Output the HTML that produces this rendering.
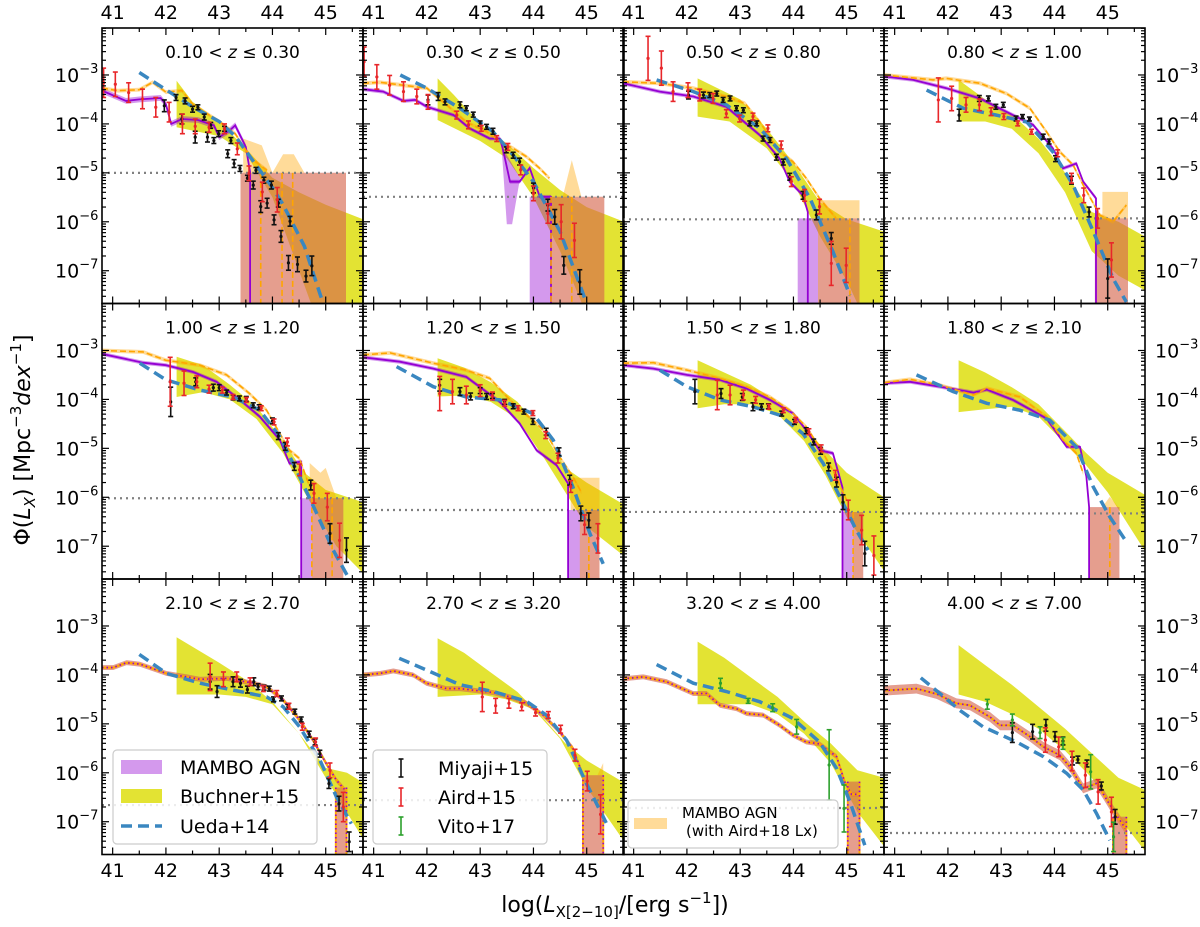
<!DOCTYPE html>
<html><head><meta charset="utf-8">
<style>
html,body{margin:0;padding:0;background:#fff;}
svg{display:block;font-family:"DejaVu Sans","Liberation Sans",sans-serif;}
</style></head>
<body>
<svg id="chart" width="1200" height="927" viewBox="0 0 1200 927" xmlns="http://www.w3.org/2000/svg">
<text x="615" y="912" text-anchor="middle" font-size="22">log(<tspan font-style="italic">L</tspan><tspan font-size="15" dy="5">X[2−10]</tspan><tspan dy="-5">/[erg s</tspan><tspan font-size="15" dy="-9">−1</tspan><tspan dy="9">])</tspan></text>
<text transform="translate(30,440) rotate(-90)" text-anchor="middle" font-size="22">Φ(<tspan font-style="italic">L</tspan><tspan font-size="15" dy="5" font-style="italic">X</tspan><tspan dy="-5">) [Mpc</tspan><tspan font-size="15" dy="-9">−3</tspan><tspan dy="9" font-style="italic">dex</tspan><tspan font-size="15" dy="-9">−1</tspan><tspan dy="9">]</tspan></text>
</svg>
<script>
const titles=["0.10","0.30","0.30","0.50","0.50","0.80","0.80","1.00","1.00","1.20","1.20","1.50","1.50","1.80","1.80","2.10","2.10","2.70","2.70","3.20","3.20","4.00","4.00","7.00"];
const mamboLine=[
[[40.8,-3.32],[41.25,-3.53],[41.5,-3.5],[41.9,-3.47],[42.0,-3.6],[42.1,-4.0],[42.3,-3.9],[42.6,-3.92],[42.9,-4.03],[43.0,-4.27],[43.2,-4.13],[43.3,-4.03],[43.5,-4.47],[43.58,-4.98]],
[[40.8,-3.29],[41.18,-3.34],[41.56,-3.53],[41.78,-3.51],[42.0,-3.65],[42.5,-3.82],[42.8,-4.09],[43.18,-4.3],[43.37,-4.3],[43.43,-4.53],[43.56,-5.18],[43.74,-5.18],[43.93,-4.9],[44.12,-5.49],[44.33,-5.49]],
[[40.8,-3.17],[41.49,-3.34],[42.12,-3.44],[42.74,-3.65],[43.37,-4.23],[43.74,-4.71],[43.93,-5.18],[44.18,-5.46],[44.27,-5.8]],
[[40.8,-3.03],[41.35,-3.1],[41.97,-3.27],[42.6,-3.48],[43.22,-3.82],[43.6,-4.02],[43.97,-4.5],[44.16,-4.91],[44.41,-4.81],[44.54,-5.18],[44.78,-5.52]],
[[40.8,-3.07],[41.57,-3.25],[42.0,-3.3],[42.51,-3.44],[42.95,-3.64],[43.39,-4.01],[43.76,-4.35],[44.14,-4.83],[44.32,-5.31],[44.54,-5.27]],
[[40.8,-3.14],[41.49,-3.23],[42.12,-3.37],[42.74,-3.54],[43.37,-4.05],[43.74,-4.49],[44.06,-5.04],[44.43,-5.34],[44.65,-5.72]],
[[40.8,-3.3],[41.37,-3.37],[42.0,-3.5],[42.62,-3.6],[43.12,-3.78],[43.56,-4.01],[44.0,-4.29],[44.24,-4.63],[44.49,-5.04],[44.74,-5.1],[44.92,-5.8]],
[[40.8,-3.67],[41.29,-3.64],[41.85,-3.74],[42.48,-3.86],[42.73,-3.8],[43.22,-4.01],[43.85,-4.39],[44.23,-4.97],[44.48,-4.97],[44.6,-5.58],[44.65,-6.2]],
[[40.8,-3.85],[41.01,-3.85],[41.26,-3.75],[41.51,-3.78],[42.01,-3.97],[42.39,-4.04],[42.64,-4.09],[43.14,-4.07],[43.64,-4.17],[43.89,-4.24],[44.2,-4.51],[44.51,-4.92],[44.76,-5.33],[45.01,-5.81],[45.2,-6.15],[45.36,-6.35]],
[[40.8,-4.0],[41.12,-3.97],[41.37,-3.92],[41.74,-4.0],[41.99,-4.17],[42.37,-4.28],[42.62,-4.28],[43.24,-4.36],[43.56,-4.45],[43.87,-4.58],[44.18,-4.82],[44.49,-5.16],[44.74,-5.5],[44.93,-6.05]],
[[40.8,-4.08],[41.18,-4.04],[41.62,-4.14],[42.12,-4.38],[42.37,-4.38],[42.62,-4.62],[42.93,-4.69],[43.12,-4.79],[43.43,-4.82],[43.74,-5.03],[43.99,-5.23],[44.24,-5.37],[44.49,-5.41],[44.81,-5.67],[44.96,-6.18],[45.09,-6.44],[45.24,-6.44]],
[[40.8,-4.32],[41.41,-4.28],[41.79,-4.39],[42.16,-4.58],[42.41,-4.62],[42.79,-4.86],[42.98,-5.03],[43.22,-5.03],[43.54,-5.26],[43.79,-5.47],[44.1,-5.64],[44.29,-5.88],[44.54,-6.32],[44.79,-6.22],[44.91,-6.42],[45.1,-6.76],[45.35,-7.17]]
];
const mamboBandW=[0.06,0.04,0.04,0.04,0.04,0.04,0.04,0.04,0.05,0.05,0.05,0.1];
const mamboDrop=[true,true,true,true,true,true,true,true,false,false,false,false];
const mamboLimit=[[43.4,45.38,-5.0],[43.93,45.33,-5.49],[44.08,45.24,-5.93],[44.76,45.38,-5.93],[44.54,45.33,-6.02],[44.65,45.24,-6.26],[44.92,45.31,-6.3],[44.65,45.22,-6.2],[45.19,45.39,-6.3],[44.93,45.31,-6.05],[45.02,45.24,-6.18],[45.1,45.35,-6.9]];
const mamboExtra=[[],[[43.4,-4.45],[43.5,-6.05],[43.6,-6.05],[43.75,-5.1]],[],[],[],[],[],[],[],[],[],[]];
const orangeLine=[
[[40.8,-3.27],[41.1,-3.32],[41.5,-3.3],[41.75,-3.15],[42.0,-3.35],[42.3,-3.32],[42.5,-3.6],[43.0,-3.95],[43.3,-4.2],[43.6,-4.7],[43.9,-4.95]],
[[40.8,-3.17],[41.12,-3.15],[41.56,-3.21],[42.0,-3.27],[42.37,-3.61],[42.74,-3.96],[43.12,-4.16],[43.37,-4.36],[43.62,-4.5],[43.87,-4.67],[44.12,-4.91],[44.3,-5.11]],
[[40.8,-3.14],[41.49,-3.17],[42.12,-3.27],[42.74,-3.44],[43.09,-3.58],[43.37,-3.96],[43.74,-4.57],[43.99,-4.77],[44.24,-5.11],[44.49,-5.52],[44.8,-5.93]],
[[40.8,-3.0],[41.72,-3.1],[41.97,-3.07],[42.6,-3.17],[43.1,-3.38],[43.54,-3.68],[43.85,-4.16],[44.1,-4.57],[44.35,-4.84],[44.54,-5.25],[44.85,-5.86],[45.1,-6.0],[45.35,-5.66]],
[[40.8,-3.0],[41.57,-3.03],[42.0,-3.2],[42.64,-3.3],[43.14,-3.5],[43.57,-3.88],[43.89,-4.22],[44.14,-4.7],[44.32,-5.04],[44.51,-5.21],[44.7,-5.79]],
[[40.8,-3.09],[41.31,-3.05],[42.12,-3.26],[42.74,-3.4],[43.18,-3.57],[43.68,-4.15],[43.99,-4.42],[44.24,-4.69],[44.49,-5.17],[44.74,-5.58],[44.9,-5.9]],
[[40.8,-3.26],[41.37,-3.25],[42.0,-3.4],[42.62,-3.57],[43.12,-3.74],[43.56,-3.95],[43.93,-4.22],[44.24,-4.56],[44.49,-4.97],[44.74,-5.45],[45.0,-6.06]],
[[40.8,-3.66],[41.29,-3.59],[41.85,-3.71],[42.48,-3.91],[42.73,-3.77],[43.35,-3.95],[43.85,-4.35],[44.16,-4.83],[44.41,-5.1],[44.54,-5.51]],
null,null,null,null
];
const orangeBandW=[0.04,0.04,0.04,0.04,0.04,0.04,0.04,0.04,0.05,0.05,0.05,0.1];
const orangeLimit=[[43.4,45.38,-5.0],[44.33,45.33,-5.49],[44.46,45.24,-5.93],[44.76,45.38,-5.93],[44.74,45.33,-6.02],[44.87,45.24,-6.26],[45.12,45.31,-6.3],[44.65,45.22,-6.2],[45.19,45.39,-6.3],[44.93,45.31,-6.05],[45.02,45.24,-6.18],[45.1,45.35,-6.9]];
const orangeExtra=[
[[43.45,-4.3],[43.8,-4.44],[44.0,-5.0],[44.2,-4.62],[44.4,-4.62],[44.6,-5.0],[43.45,-5.0]],
[[44.55,-5.49],[44.72,-4.74],[44.9,-5.49]],
[[44.46,-5.56],[45.24,-5.56],[45.24,-5.93],[44.46,-5.93]],
[[44.9,-5.93],[44.9,-5.39],[45.38,-5.39],[45.38,-5.93]],
[[44.7,-5.3],[44.9,-5.5],[45.0,-5.4],[45.2,-6.02],[44.7,-6.02]],
[[44.7,-5.6],[45.24,-5.6],[45.24,-6.26],[44.7,-6.26]],
[],[[44.9,-6.2],[45.04,-5.99],[45.2,-6.2]],[],[[45.2,-6.05],[45.31,-5.8],[45.31,-6.05]],[],[]];
const orangeVx=[[43.78,44.18,44.38],[44.33,44.72],[45.06],[],[44.74,45.12],[45.04],[45.12],[45.04],[],[],[],[]];
const uedaLine=[
[[41.5,-2.95],[42.0,-3.3],[42.5,-3.65],[43.0,-3.95],[43.3,-4.25],[43.6,-4.7],[44.0,-5.3],[44.2,-5.65],[44.6,-6.5],[44.9,-7.5],[45.0,-7.8]],
[[41.5,-3.0],[42.0,-3.27],[42.62,-3.68],[43.24,-4.16],[43.62,-4.64],[44.0,-5.18],[44.5,-6.2],[45.0,-7.67]],
[[41.43,-3.1],[42.12,-3.34],[42.74,-3.61],[43.37,-4.09],[43.87,-4.71],[44.31,-5.52],[44.74,-6.61],[45.06,-7.5]],
[[41.6,-3.31],[42.29,-3.68],[42.91,-3.82],[43.48,-3.96],[43.97,-4.57],[44.35,-5.25],[44.73,-6.2],[45.1,-7.16],[45.35,-7.64]],
[[41.51,-3.26],[42.0,-3.6],[42.64,-3.81],[43.26,-3.95],[43.76,-4.22],[44.14,-4.76],[44.51,-5.58],[44.83,-6.33],[45.14,-7.08],[45.42,-7.63]],
[[41.43,-3.33],[42.12,-3.74],[42.74,-3.95],[43.37,-4.01],[43.99,-4.29],[44.37,-4.83],[44.74,-5.79],[45.06,-6.74],[45.31,-7.36]],
[[41.49,-3.4],[42.0,-3.74],[42.62,-4.01],[43.24,-4.15],[43.74,-4.32],[44.18,-4.7],[44.56,-5.31],[44.87,-5.99],[45.18,-6.67],[45.4,-7.08]],
[[41.41,-3.5],[42.1,-3.84],[42.73,-4.08],[43.35,-4.22],[43.91,-4.42],[44.41,-4.97],[44.73,-5.79],[45.04,-6.4],[45.35,-6.91]],
[[41.5,-3.58],[42.01,-3.97],[42.64,-4.17],[43.26,-4.31],[43.89,-4.45],[44.2,-4.65],[44.51,-5.06],[44.89,-5.74],[45.2,-6.49],[45.48,-7.04]],
[[41.48,-3.66],[41.99,-3.9],[42.62,-4.2],[43.24,-4.34],[43.87,-4.54],[44.24,-4.82],[44.62,-5.33],[44.99,-6.21],[45.37,-7.03]],
[[41.43,-3.79],[42.12,-4.17],[42.74,-4.34],[43.37,-4.55],[43.99,-4.89],[44.49,-5.37],[44.81,-5.91],[45.06,-6.59],[45.34,-7.48]],
[[41.49,-4.06],[41.85,-4.38],[42.22,-4.72],[42.66,-5.06],[43.29,-5.37],[43.79,-5.67],[44.23,-6.01],[44.54,-6.35],[44.79,-6.83],[45.04,-7.38]]
];
const buchUp=[
[[42.2,-3.12],[42.5,-3.55],[43.0,-3.95],[43.5,-4.5],[44.0,-5.1],[44.5,-5.4],[45.0,-5.65],[45.7,-5.95]],
[[42.2,-3.07],[42.5,-3.4],[43.0,-4.0],[43.5,-4.4],[44.0,-4.9],[44.5,-5.35],[45.0,-5.7],[45.7,-6.0]],
[[42.2,-3.07],[43.0,-3.5],[43.5,-4.1],[44.0,-4.8],[44.5,-5.6],[45.0,-5.95],[45.7,-6.2]],
[[42.2,-3.1],[42.7,-3.5],[43.2,-3.8],[43.7,-4.3],[44.2,-5.0],[44.7,-5.8],[45.2,-6.0],[45.7,-6.3]],
[[42.2,-3.13],[42.7,-3.3],[43.2,-3.7],[43.7,-4.15],[44.2,-4.85],[44.6,-5.5],[45.0,-5.85],[45.7,-6.1]],
[[42.2,-3.16],[42.7,-3.35],[43.2,-3.65],[43.7,-4.05],[44.2,-4.7],[44.6,-5.4],[45.0,-5.7],[45.7,-6.15]],
[[42.2,-3.2],[42.7,-3.45],[43.2,-3.7],[43.7,-4.05],[44.2,-4.55],[44.6,-5.05],[45.0,-5.5],[45.7,-6.0]],
[[42.2,-3.2],[42.7,-3.45],[43.2,-3.75],[43.7,-4.1],[44.2,-4.65],[44.6,-5.1],[45.0,-5.5],[45.7,-5.95]],
[[42.2,-3.23],[43.0,-3.75],[43.5,-4.1],[44.0,-4.55],[44.5,-5.2],[45.0,-5.9],[45.4,-6.0],[45.7,-6.2]],
[[42.2,-3.25],[42.7,-3.55],[43.2,-3.95],[43.7,-4.35],[44.2,-4.9],[44.6,-5.4],[45.0,-5.75],[45.7,-6.2]],
[[42.2,-3.32],[42.7,-3.65],[43.2,-4.05],[43.7,-4.45],[44.2,-4.95],[44.7,-5.4],[45.2,-5.95],[45.7,-6.1]],
[[42.2,-3.39],[42.7,-3.8],[43.2,-4.2],[43.7,-4.65],[44.2,-5.1],[44.7,-5.6],[45.2,-6.1],[45.7,-6.35]]
];
const buchLo=[
[[42.2,-4.07],[43.0,-4.25],[43.5,-4.6],[44.0,-5.5],[44.5,-7.0],[44.8,-7.9],[45.7,-7.9]],
[[42.2,-3.92],[43.0,-4.35],[43.5,-4.7],[44.0,-5.5],[44.5,-6.6],[45.0,-7.9],[45.7,-7.9]],
[[42.2,-3.85],[42.8,-3.95],[43.5,-4.5],[44.0,-5.2],[44.5,-6.3],[45.0,-7.2],[45.3,-7.9],[45.7,-7.9]],
[[42.2,-3.95],[42.7,-3.95],[43.2,-4.1],[43.7,-4.6],[44.2,-5.4],[44.7,-6.6],[45.2,-7.1],[45.7,-7.4]],
[[42.2,-3.95],[42.7,-3.85],[43.2,-4.0],[43.7,-4.4],[44.2,-5.1],[44.6,-5.9],[45.2,-7.0],[45.7,-7.55]],
[[42.2,-3.94],[42.7,-3.92],[43.2,-4.05],[43.7,-4.4],[44.2,-5.2],[44.6,-5.9],[45.0,-6.6],[45.7,-7.2]],
[[42.2,-4.18],[42.7,-4.1],[43.2,-4.1],[43.7,-4.3],[44.2,-4.85],[44.6,-5.55],[45.0,-6.4],[45.7,-7.5]],
[[42.2,-4.26],[42.7,-4.2],[43.2,-4.15],[43.7,-4.35],[44.2,-4.9],[44.6,-5.35],[45.0,-5.9],[45.7,-7.1]],
[[42.2,-4.4],[43.0,-4.4],[43.5,-4.45],[44.0,-4.6],[44.5,-5.2],[45.0,-6.1],[45.7,-7.35]],
[[42.2,-4.45],[43.0,-4.4],[43.5,-4.5],[44.0,-4.7],[44.5,-5.3],[45.0,-6.3],[45.7,-7.4]],
[[42.2,-4.6],[42.7,-4.6],[43.2,-4.6],[43.7,-4.8],[44.2,-5.2],[44.7,-5.8],[45.2,-6.8],[45.7,-7.5]],
[[42.2,-4.4],[42.7,-4.55],[43.2,-4.8],[43.7,-5.1],[44.2,-5.55],[44.7,-6.1],[45.2,-6.9],[45.7,-7.6]]
];
const limitLevel=[-5.0,-5.49,-5.95,-5.93,-6.02,-6.26,-6.3,-6.33,-6.66,-6.56,-6.72,-7.23];
const miyaji=[
[[41.97,-3.63,.12],[42.19,-3.46,.06],[42.36,-3.53,.06],[42.3,-3.9,.1],[42.5,-3.7,.06],[42.6,-3.66,.05],[42.55,-4.27,.12],[42.72,-3.86,.06],[42.78,-4.27,.1],[42.84,-4.03,.06],[42.9,-4.34,.06],[42.99,-4.2,.06],[43.1,-4.1,.05],[43.16,-4.61,.08],[43.22,-4.34,.06],[43.28,-4.81,.08],[43.39,-4.91,.06],[43.53,-5.11,.06],[43.64,-5.25,.08],[43.69,-4.95,.06],[43.84,-5.15,.06],[43.78,-5.69,.12],[43.9,-5.62,.1],[43.98,-5.25,.08],[44.03,-5.96,.1],[44.11,-5.62,.08],[44.16,-6.3,.12],[44.33,-5.99,.1],[44.3,-6.84,.15],[44.47,-6.87,.15],[44.63,-7.11,.12],[44.74,-6.9,.2]],
[[42.02,-3.51,.1],[42.21,-3.44,.08],[42.34,-3.55,.06],[42.62,-3.61,.06],[42.74,-3.68,.05],[42.87,-3.81,.05],[43.0,-3.99,.05],[43.12,-4.06,.05],[43.24,-4.15,.06],[43.49,-4.53,.06],[43.62,-4.64,.06],[43.74,-4.77,.07],[44.0,-5.31,.1],[44.27,-5.66,.12],[44.4,-5.9,.15],[44.57,-6.89,.18],[44.87,-7.23,.25]],
[[42.03,-3.41,.08],[42.31,-3.41,.06],[42.43,-3.41,.05],[42.56,-3.38,.05],[42.68,-3.51,.05],[42.81,-3.48,.05],[42.93,-3.68,.05],[43.06,-3.72,.05],[43.18,-3.99,.05],[43.31,-3.99,.05],[43.43,-4.3,.05],[43.56,-4.33,.05],[43.68,-4.68,.06],[43.81,-4.78,.06],[43.93,-5.08,.07],[44.18,-5.46,.08],[44.43,-5.86,.1],[44.71,-6.34,.12]],
[[42.21,-3.82,.12],[42.59,-3.48,.06],[42.76,-3.48,.05],[42.9,-3.65,.05],[43.04,-3.61,.05],[43.28,-3.89,.05],[43.4,-3.85,.04],[43.53,-3.9,.04],[43.79,-4.26,.05],[43.9,-4.36,.05],[44.02,-4.71,.06],[44.32,-5.15,.08],[44.65,-5.8,.1],[45.0,-7.16,.4]],
[[42.09,-4.05,.3],[42.56,-3.64,.08],[42.89,-3.76,.07],[43.0,-3.76,.06],[43.14,-3.86,.05],[43.26,-3.96,.05],[43.38,-3.98,.05],[43.51,-3.99,.05],[43.64,-4.12,.05],[43.75,-4.16,.05],[44.0,-4.44,.06],[44.11,-4.75,.07],[44.24,-4.96,.08],[44.41,-5.37,.08],[44.72,-5.75,.1],[45.08,-6.74,.2],[45.39,-7.08,.25]],
[[42.24,-3.71,.12],[42.62,-3.84,.08],[42.82,-3.94,.07],[43.0,-3.82,.06],[43.12,-3.94,.06],[43.23,-3.93,.05],[43.46,-4.05,.05],[43.62,-4.14,.05],[43.82,-4.25,.05],[43.99,-4.45,.06],[44.24,-4.66,.07],[44.48,-5.07,.08],[44.68,-5.65,.1],[44.89,-6.33,.15],[45.04,-6.47,.15]],
[[42.15,-3.84,.25],[42.64,-3.88,.1],[43.04,-3.95,.07],[43.24,-4.15,.08],[43.4,-4.15,.06],[43.53,-4.14,.05],[43.78,-4.29,.05],[44.02,-4.46,.05],[44.24,-4.64,.06],[44.38,-4.87,.06],[44.51,-5.05,.07],[44.66,-5.38,.08],[44.81,-5.69,.1],[44.93,-6.1,.15],[45.34,-7.15,.25]],
[],
[[42.83,-4.14,.15],[42.96,-4.34,.12],[43.26,-4.14,.1],[43.4,-4.17,.08],[43.53,-4.3,.07],[43.65,-4.14,.08],[43.73,-4.24,.06],[43.84,-4.26,.05],[43.94,-4.28,.05],[44.02,-4.5,.05],[44.17,-4.48,.05],[44.29,-4.65,.05],[44.42,-4.75,.05],[44.54,-4.91,.05],[44.69,-5.21,.06],[44.8,-5.37,.06],[44.89,-5.61,.07],[45.06,-6.22,.1],[45.25,-6.63,.15],[45.44,-7.41,.2]],
[],[],
[[43.21,-5.18,.2],[43.59,-5.16,.15],[43.84,-5.03,.12],[44.01,-5.26,.1],[44.16,-5.35,.08],[44.34,-5.76,.08],[44.44,-5.73,.07],[44.61,-5.81,.07],[44.88,-6.27,.08],[45.14,-6.9,.15]]
];
const aird=[
[[40.83,-3.16,.3],[41.05,-3.19,.25],[41.3,-3.36,.2],[41.56,-3.49,.2],[41.81,-3.66,.2],[42.06,-3.76,.2],[42.31,-4.0,.2],[42.55,-4.05,.15],[42.81,-4.07,.1],[43.1,-4.1,.1],[43.34,-4.51,.12],[43.56,-5.01,.15],[43.81,-5.39,.2],[44.09,-5.55,.25]],
[[40.82,-2.73,.3],[41.06,-3.04,.25],[41.3,-3.21,.2],[41.56,-3.34,.2],[41.81,-3.44,.15],[42.02,-3.55,.15],[42.56,-3.82,.08],[42.78,-4.02,.08],[43.02,-4.09,.06],[43.31,-4.3,.06],[43.52,-4.47,.07],[43.76,-4.94,.1],[44.0,-5.42,.15],[44.27,-5.83,.2],[44.52,-6.0,.35],[44.77,-6.38,.35]],
[[41.27,-2.66,.45],[41.52,-2.86,.35],[41.74,-3.34,.2],[42.02,-3.31,.15],[42.24,-3.41,.12],[42.49,-3.48,.1],[42.74,-3.79,.08],[42.99,-3.89,.07],[43.24,-3.85,.07],[43.52,-4.09,.07],[43.77,-4.43,.08],[43.96,-5.18,.1],[44.21,-5.46,.12],[44.49,-5.69,.15],[44.71,-6.85,.45],[44.99,-6.89,.35]],
[[41.82,-3.51,.45],[42.07,-3.48,.25],[42.34,-3.61,.15],[42.59,-3.61,.12],[42.81,-3.75,.08],[43.05,-3.85,.06],[43.31,-3.99,.05],[43.57,-4.16,.05],[44.06,-4.6,.07],[44.32,-5.11,.1],[44.55,-5.46,.15],[44.81,-5.93,.2],[45.07,-6.78,.35]],
[[42.08,-3.64,.5],[42.34,-3.67,.25],[42.58,-3.64,.12],[42.81,-3.79,.08],[43.06,-3.81,.06],[43.26,-3.95,.05],[43.51,-4.01,.05],[43.79,-4.18,.05],[44.03,-4.46,.06],[44.28,-4.87,.08],[44.51,-5.44,.12],[44.78,-5.92,.2],[45.03,-6.2,.28],[45.26,-6.88,.35]],
[[42.24,-3.88,.35],[42.48,-3.84,.25],[42.74,-3.91,.18],[43.0,-3.82,.12],[43.23,-3.93,.08],[43.46,-4.08,.06],[43.71,-4.18,.05],[43.99,-4.28,.05],[44.23,-4.73,.07],[44.46,-5.2,.1],[44.7,-5.78,.12],[44.96,-6.56,.2],[45.21,-6.84,.3]],
[[42.57,-3.91,.3],[42.81,-3.91,.2],[43.06,-3.91,.1],[43.29,-4.01,.07],[43.54,-4.15,.05],[43.81,-4.22,.05],[44.04,-4.42,.05],[44.29,-4.66,.06],[44.52,-5.0,.07],[44.79,-5.55,.1],[45.03,-6.26,.2],[45.28,-6.67,.3],[45.51,-7.19,.4]],
[],
[[42.83,-4.04,.28],[43.08,-4.09,.15],[43.33,-4.04,.1],[43.58,-4.14,.08],[43.83,-4.28,.06],[44.08,-4.38,.06],[44.31,-4.64,.06],[44.56,-5.06,.07],[44.81,-5.37,.08],[45.08,-5.95,.15],[45.33,-6.7,.3]],
[[43.04,-4.45,.3],[43.29,-4.63,.15],[43.54,-4.58,.1],[43.78,-4.65,.08],[44.04,-4.77,.07],[44.28,-4.82,.07],[44.51,-5.11,.08],[44.78,-5.64,.12],[45.01,-6.17,.2],[45.26,-6.85,.4]],
[],
[[43.83,-5.33,.25],[44.08,-5.47,.2],[44.33,-5.76,.2],[44.58,-6.05,.25],[44.82,-6.39,.25],[45.07,-6.8,.3]]
];
const vito=[[],[],[],[],[],[],[],[],[],[],
[[42.63,-4.17,.1],[43.15,-4.53,.05],[43.61,-4.67,.08],[44.06,-5.06,.15],[44.67,-5.84,.72],[44.95,-6.73,.48]],
[[42.74,-4.6,.1],[43.21,-4.92,.12],[43.73,-5.18,.12],[44.16,-5.4,.12],[44.68,-5.98,.35],[45.11,-7.31,.3]]
];

const NS="http://www.w3.org/2000/svg";
const svg=document.getElementById('chart');
const colLeft=[102,363,623,884], W=261;
const rowTop=[28,303.5,579], H=275.5;
const XMIN=40.8,XMAX=45.7,YMAX=-2.04,YMIN=-7.67;
function mk(tag,attrs,parent){const e=document.createElementNS(NS,tag);for(const k in attrs)e.setAttribute(k,attrs[k]);(parent||svg).appendChild(e);return e;}
const defs=mk('defs',{});

for(let p=0;p<12;p++){
  const c=p%4,r=Math.floor(p/4);
  const L=colLeft[c],T=rowTop[r];
  const sx=v=>L+(v-XMIN)/(XMAX-XMIN)*W;
  const sy=v=>T+(YMAX-v)/(YMAX-YMIN)*H;
  const pts=a=>a.map(q=>sx(q[0]).toFixed(1)+','+sy(q[1]).toFixed(1)).join(' ');
  const cp=mk('clipPath',{id:'clip'+p},defs);
  mk('rect',{x:L,y:T,width:W,height:H},cp);
  const g=mk('g',{'clip-path':'url(#clip'+p+')'});
  
  
  const bp=buchUp[p].concat(buchLo[p].slice().reverse());
  const bb=mk('polygon',{points:pts(bp),fill:'#e3e333'},g);
  
  
  const mLine=mamboLine[p];
  const mw=mamboBandW[p];
  const mband=mLine.map(q=>[q[0],q[1]+mw]).concat(mLine.slice().reverse().map(q=>[q[0],q[1]-mw]));
  const pg=mk('g',{fill:'#9400d3','fill-opacity':'0.4'},g);
  
  
  mk('polygon',{points:pts(mband)},pg);
  const ml=mamboLimit[p];
  mk('polygon',{points:pts([[ml[0],ml[2]],[ml[1],ml[2]],[ml[1],-8],[ml[0],-8]])},pg);
  if(mamboExtra[p].length) mk('polygon',{points:pts(mamboExtra[p])},pg);
  const oLine=orangeLine[p]||mLine;
  const ow=orangeBandW[p];
  const oband=oLine.map(q=>[q[0],q[1]+ow]).concat(oLine.slice().reverse().map(q=>[q[0],q[1]-ow]));
  const og=mk('g',{fill:'#ffa500','fill-opacity':'0.4'},g);
  
  
  mk('polygon',{points:pts(oband)},og);
  const ol=orangeLimit[p];
  mk('polygon',{points:pts([[ol[0],ol[2]],[ol[1],ol[2]],[ol[1],-8],[ol[0],-8]])},og);
  if(orangeExtra[p].length) mk('polygon',{points:pts(orangeExtra[p])},og);
  const dl=mk('line',{x1:L,x2:L+W,y1:sy(limitLevel[p]),y2:sy(limitLevel[p]),stroke:'#808080','stroke-width':2.2,'stroke-dasharray':'2,4'},g);
  
  
  if(orangeLine[p]){
    const ml2=mLine.slice();
    if(mamboDrop[p]){const last=ml2[ml2.length-1];ml2.push([last[0],-8]);}
    const pl=mk('polyline',{points:pts(ml2),fill:'none',stroke:'#9400d3','stroke-width':1.8},g);
    
    
    const ol2=mk('polyline',{points:pts(oLine),fill:'none',stroke:'#ffa500','stroke-width':1.6,'stroke-dasharray':'6,3'},g);
    
    
    orangeVx[p].forEach(v=>{
      const vl=mk('line',{x1:sx(v),x2:sx(v),y1:sy(ol[2]),y2:T+H,stroke:'#ffa500','stroke-width':1.6,'stroke-dasharray':'6,3'},g);
      
      
    });
  } else {
    const ol2=mk('polyline',{points:pts(oLine),fill:'none',stroke:'#ffa500','stroke-width':2.2},g);
    
    
    const pl=mk('polyline',{points:pts(mLine),fill:'none',stroke:'#9400d3','stroke-width':1.6,'stroke-dasharray':'1.5,3'},g);
    
    
    [ml[0],ml[1]].forEach(v=>{
      const vl=mk('line',{x1:sx(v),x2:sx(v),y1:sy(ml[2]),y2:T+H,stroke:'#ffa500','stroke-width':2},g);
      
      
      mk('line',{x1:sx(v),x2:sx(v),y1:sy(ml[2]),y2:T+H,stroke:'#9400d3','stroke-width':1.6,'stroke-dasharray':'1.5,3'},g);
    });
  }
  const ul=mk('polyline',{points:pts(uedaLine[p]),fill:'none',stroke:'#3a87c0','stroke-width':3.5,'stroke-dasharray':'11,6'},g);
  
  
  function errs(arr,col,name){
    const eg=mk('g',{stroke:col,'stroke-width':1.6,fill:col},g);
    
    
    arr.forEach(q=>{
      const x=sx(q[0]),y1=sy(q[1]+q[2]),y2=sy(q[1]-q[2]),y=sy(q[1]);
      mk('line',{x1:x,x2:x,y1:y1,y2:y2},eg);
      mk('line',{x1:x-2.5,x2:x+2.5,y1:y1,y2:y1},eg);
      mk('line',{x1:x-2.5,x2:x+2.5,y1:y2,y2:y2},eg);
      mk('circle',{cx:x,cy:y,r:1.6,stroke:'none'},eg);
    });
  }
  errs(miyaji[p],'#111','miyaji15-points');
  errs(aird[p],'#e8262a','aird15-points');
  errs(vito[p],'#2ca02c','vito17-points');
  const fr=mk('rect',{x:L,y:T,width:W,height:H,fill:'none',stroke:'#000','stroke-width':1.6});
  
  
  const tg=mk('g',{stroke:'#000','stroke-width':1.2});
  
  
  for(let v=41;v<=45.5;v+=0.5){
    const x=sx(v),len=(v%1===0)?7:4;
    mk('line',{x1:x,x2:x,y1:T,y2:T+len},tg);
    mk('line',{x1:x,x2:x,y1:T+H,y2:T+H-len},tg);
  }
  for(let d=-8;d<=-2;d++){
    for(let k=1;k<=9;k++){
      const v=d+Math.log10(k);
      if(v<YMIN||v>YMAX)continue;
      const y=sy(v),len=k===1?7:4;
      mk('line',{x1:L,x2:L+len,y1:y,y2:y},tg);
      mk('line',{x1:L+W,x2:L+W-len,y1:y,y2:y},tg);
    }
  }
  if(r===0||r===2){
    for(let v=41;v<=45;v++){
      const t=mk('text',{x:sx(v),y:r===0?19:877,'text-anchor':'middle','font-size':19});
      t.textContent=v;
      
      
    }
  }
  if(c===0||c===3){
    for(let d=-7;d<=-3;d++){
      const t=mk('text',{x:c===0?L-47:L+W+10,y:sy(d)+7,'text-anchor':'start','font-size':19});
      
      
      t.textContent='10';
      const s=mk('tspan',{'font-size':13,dy:-9},t);
      s.textContent='−'+(-d);
    }
  }
  const tt=mk('text',{x:L+W/2,y:T+30,'text-anchor':'middle','font-size':17});
  
  
  const a=mk('tspan',{},tt);a.textContent=titles[2*p]+' < ';
  const z=mk('tspan',{'font-style':'italic'},tt);z.textContent='z';
  const b=mk('tspan',{},tt);b.textContent=' ≤ '+titles[2*p+1];
}

function legendBox(x,y,w,h,name){
  const r=mk('rect',{x:x,y:y,width:w,height:h,rx:4,fill:'#fff','fill-opacity':0.85,stroke:'#ccc','stroke-width':1.2});
  
  
}
function ltext(x,y,s,fs,name){const t=mk('text',{x:x,y:y,'font-size':fs});t.textContent=s;return t;}
legendBox(113,750,204,94,'legend-models');
const s1=mk('rect',{x:121,y:760,width:41,height:14,fill:'#9400d3','fill-opacity':0.4});

ltext(180,774,'MAMBO AGN',19,'legend-entry-mambo');
const s2=mk('rect',{x:121,y:789,width:41,height:14,fill:'#e3e333'});

ltext(180,803,'Buchner+15',19,'legend-entry-buchner');
const s3=mk('line',{x1:121,x2:162,y1:826,y2:826,stroke:'#3a87c0','stroke-width':3.5,'stroke-dasharray':'11,6'});

ltext(180,833,'Ueda+14',19,'legend-entry-ueda');

legendBox(373,750,174,94,'legend-data');
[['Miyaji+15','#111',768],['Aird+15','#e8262a',797],['Vito+17','#2ca02c',826]].forEach(e=>{
  const g=mk('g',{stroke:e[1],'stroke-width':1.6});
  
  mk('line',{x1:401,x2:401,y1:e[2]-9,y2:e[2]+9},g);
  mk('line',{x1:398.5,x2:403.5,y1:e[2]-9,y2:e[2]-9},g);
  mk('line',{x1:398.5,x2:403.5,y1:e[2]+9,y2:e[2]+9},g);
  ltext(438,e[2]+7,e[0],19,'legend-entry-'+e[0].toLowerCase().replace('+',''));
});

legendBox(628,800,210,48,'legend-aird18');
const s4=mk('rect',{x:634,y:818,width:33,height:11,fill:'#ffa500','fill-opacity':0.4});

ltext(682,818,'MAMBO AGN',15,'legend-entry-mambo-aird18');
ltext(686,836,'(with Aird+18 Lx)',15,'legend-entry-mambo-aird18-sub');
</script>
</body></html>
